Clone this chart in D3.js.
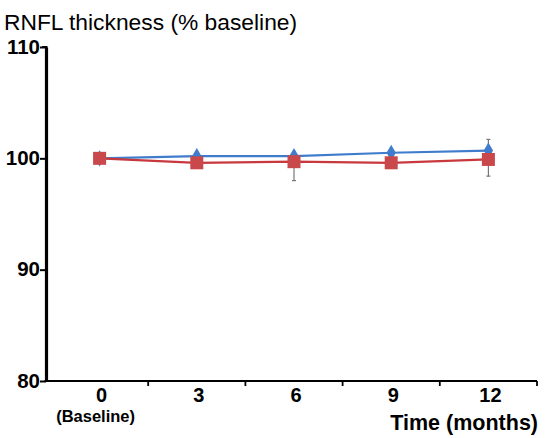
<!DOCTYPE html>
<html>
<head>
<meta charset="utf-8">
<script src="https://cdn.jsdelivr.net/npm/d3@7"></script>
<style>
body{margin:0;background:#fff;}
svg text{font-family:"Liberation Sans",Arial,sans-serif;}
</style>
</head>
<body>
<svg id="chart"></svg>
<script>
// data
let months = ["0", "3", "6", "9", "12"];
let blueVals = [100, 100.2, 100.2, 100.5, 100.7];
let redVals = [100, 99.6, 99.7, 99.6, 99.9];
let blueErrUp = [0, 0, 0, 0, 1.0];
let redErrDown = [0, 0, 1.7, 0, 1.5];
let yTicks = [80, 90, 100, 110];

let width = 553, height = 438,
    mLeft = 46, mRight = 537, mTop = 47, mBottom = 381,
    svg = d3.select("#chart").attr("width", width).attr("height", height),
    xScale = d3.scaleBand(months, [mLeft + 5, mRight]),
    yScale = d3.scaleLinear([80, 110], [mBottom, mTop]),
    cx = function(i){ return xScale(months[i]) + xScale.bandwidth() / 2; };

// title
svg.append("text").attr("x", 4).attr("y", 30)
    .attr("font-size", 22.8).text("RNFL thickness (% baseline)");

// y axis
let yAxis = svg.append("g").attr("transform", "translate(" + mLeft + ",0)")
    .call(d3.axisLeft(yScale).tickValues(yTicks).tickSize(6).tickSizeOuter(0));
yAxis.select(".domain").attr("stroke-width", 3.2);
yAxis.selectAll(".tick line").attr("stroke-width", 2);
yAxis.selectAll(".tick text").attr("font-size", 20.5).attr("font-weight", "bold")
    .attr("x", -6).attr("dy", "0.3em").attr("fill", "#000");
// small hook at the top of the y axis
svg.append("line").attr("x1", mLeft - 4).attr("x2", mLeft + 1.5)
    .attr("y1", mTop).attr("y2", mTop).attr("stroke", "#000").attr("stroke-width", 2);

// x axis: ticks on band boundaries, labels in band centres
let xb = svg.append("g").attr("transform", "translate(0," + mBottom + ")");
xb.append("line").attr("x1", mLeft - 1.5).attr("x2", mRight).attr("y1", 0).attr("y2", 0)
    .attr("stroke", "#000").attr("stroke-width", 2.2);
xb.selectAll(".xt").data(months.slice(1).concat(["end"])).enter().append("line")
    .attr("class", "xt")
    .attr("x1", function(d, i){ return xScale(months[0]) + xScale.step() * (i + 1); })
    .attr("x2", function(d, i){ return xScale(months[0]) + xScale.step() * (i + 1); })
    .attr("y1", 0).attr("y2", 5).attr("stroke", "#000").attr("stroke-width", 1.8);
xb.selectAll(".xl").data(months).enter().append("text")
    .attr("class", "xl")
    .attr("x", function(d, i){ return cx(i) + 2; }).attr("y", 21)
    .attr("text-anchor", "middle").attr("font-size", 20).attr("font-weight", "bold")
    .text(function(d){ return d; });
svg.append("text").attr("x", cx(0) - 4).attr("y", 422).attr("text-anchor", "middle")
    .attr("font-size", 16.5).attr("font-weight", "bold").text("(Baseline)");
svg.append("text").attr("x", mRight + 1).attr("y", 430).attr("text-anchor", "end")
    .attr("font-size", 21.5).attr("font-weight", "bold").text("Time (months)");

// error bars
let g = svg.append("g");
function errBars(vals, errs, dir){
    vals.forEach(function(v, i){
        if (!errs[i]) return;
        let y0 = yScale(v), y1 = yScale(v + dir * errs[i]), x = cx(i);
        g.append("line").attr("x1", x).attr("x2", x).attr("y1", y0).attr("y2", y1)
            .attr("stroke", "#777").attr("stroke-width", 1.2);
        g.append("line").attr("x1", x - 2).attr("x2", x + 2).attr("y1", y1).attr("y2", y1)
            .attr("stroke", "#777").attr("stroke-width", 1.2);
    });
}
errBars(blueVals, blueErrUp, 1);
errBars(redVals, redErrDown, -1);

let line = d3.line().x(function(d, i){ return cx(i); }).y(function(d){ return yScale(d); });

g.append("path").datum(blueVals).attr("d", line).attr("fill", "none")
    .attr("stroke", "#3f7ccc").attr("stroke-width", 2.2);
g.selectAll(".dia").data(blueVals).enter().append("path").attr("class", "dia")
    .attr("d", d3.symbol(d3.symbolDiamond, 75))
    .attr("transform", function(d, i){ return "translate(" + cx(i) + "," + yScale(d) + ")"; })
    .attr("fill", "#3f7ccc");

g.append("path").datum(redVals).attr("d", line).attr("fill", "none")
    .attr("stroke", "#c8393d").attr("stroke-width", 2.2);
g.selectAll(".sq").data(redVals).enter().append("rect").attr("class", "sq")
    .attr("x", function(d, i){ return cx(i) - 6.5; })
    .attr("y", function(d){ return yScale(d) - 6.5; })
    .attr("width", 13).attr("height", 13)
    .attr("fill", "#c9484b");
</script>
</body>
</html>
